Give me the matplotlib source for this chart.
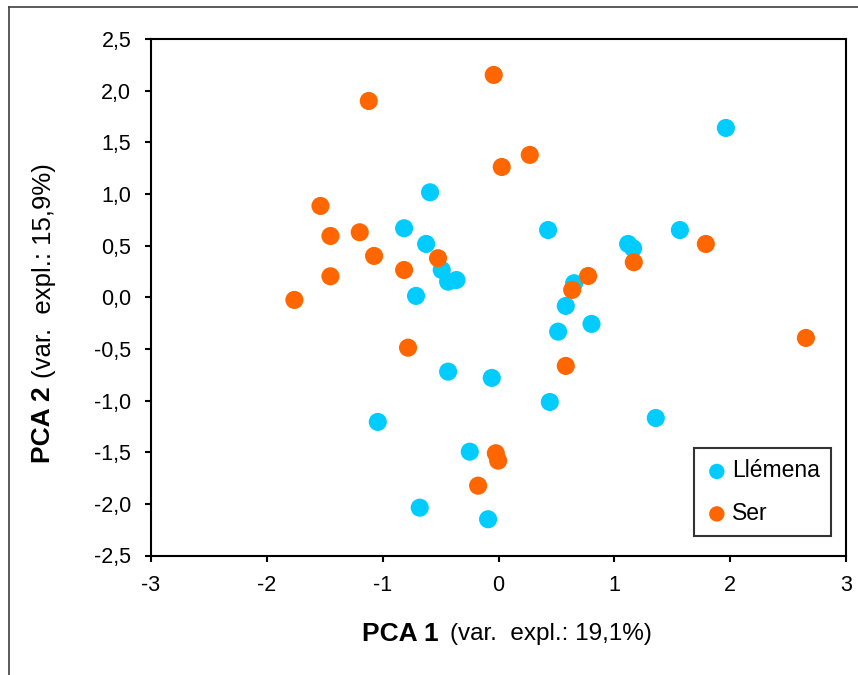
import matplotlib; matplotlib.use("Agg")
import matplotlib.pyplot as plt
from matplotlib.ticker import FuncFormatter, MultipleLocator
from matplotlib.lines import Line2D

plt.rcParams["font.family"] = ["Liberation Sans", "DejaVu Sans"]

BLUE = "#00CCFF"; ORANGE = "#FF6600"

# Llémena scores
ll_x = [1.963, -0.591, -0.815, -0.625, -0.490, -0.435, -0.363, -0.712, 0.428, 1.119, 1.162, 1.566,
        0.653, 0.581, 0.515, 0.803, -0.435, -0.058, 0.443, 1.358, -1.042, -0.248, -0.680, -0.090]
ll_y = [1.639, 1.016, 0.668, 0.516, 0.264, 0.151, 0.167, 0.013, 0.651, 0.516, 0.474, 0.651,
        0.136, -0.084, -0.333, -0.258, -0.720, -0.781, -1.014, -1.169, -1.207, -1.495, -2.037, -2.149]
# Ser scores
ser_x = [-0.041, -1.120, 0.270, 0.028, -1.537, -1.451, -1.198, -1.074, -1.451, -1.762, -0.815,
         -0.522, -0.781, 0.774, 0.636, 1.168, 1.790, 2.654, 0.581, -0.023, -0.003, -0.176]
ser_y = [2.152, 1.900, 1.378, 1.261, 0.884, 0.593, 0.629, 0.400, 0.203, -0.026, 0.264,
         0.378, -0.488, 0.206, 0.071, 0.339, 0.516, -0.394, -0.665, -1.510, -1.582, -1.824]

fig = plt.figure(figsize=(8.58, 6.75), dpi=100)
ax = fig.add_axes([151/858, 1-555.5/675, (846-151)/858, (555.5-39)/675])

ax.scatter(ll_x, ll_y, s=170, color=BLUE, edgecolors="none", label="Llémena", zorder=3)
ax.scatter(ser_x, ser_y, s=170, color=ORANGE, edgecolors="none", label="Ser", zorder=3)

ax.set_xlim(-3, 3); ax.set_ylim(-2.5, 2.5)
ax.xaxis.set_major_locator(MultipleLocator(1)); ax.yaxis.set_major_locator(MultipleLocator(0.5))
ax.xaxis.set_major_formatter(FuncFormatter(lambda v, p: "0" if abs(v) < 1e-9 else f"{v:.0f}"))
ax.yaxis.set_major_formatter(FuncFormatter(lambda v, p: f"{v:.1f}".replace(".", ",")))
ax.tick_params(direction="out", length=4.3, width=1.5, labelsize=15.5, pad=10, color="black")
for s in ax.spines.values(): s.set_linewidth(1.5); s.set_color("black")

leg = ax.legend(loc="lower right", bbox_to_anchor=(0.9785, 0.037), borderaxespad=0, fontsize=16.5,
                frameon=True, fancybox=False, edgecolor="black", handletextpad=0.15,
                labelspacing=0.85, borderpad=0.5, handlelength=1.0, markerscale=0.85)
leg.get_frame().set_linewidth(1.5)

# two-part axis labels (bold name + regular note)
fig.canvas.draw()
r = fig.canvas.get_renderer()
t1 = fig.text(362/858, 1-634/675, "PCA 1", fontsize=19, fontweight="bold", ha="left", va="center")
bb = t1.get_window_extent(r)
fig.text((bb.x1 + 11)/858, 1-634/675, "(var.  expl.: 19,1%)", fontsize=17.5, ha="left", va="center")
t2 = fig.text(43/858, 1-463/675, "PCA 2", fontsize=19, fontweight="bold", rotation=90, ha="center", va="bottom")
bb = t2.get_window_extent(r)
fig.text(44/858, (bb.y1 + 8)/675, "(var.  expl.: 15,9%)", fontsize=18.5, rotation=90, ha="center", va="bottom")

# outer chart frame
fig.add_artist(Line2D([9/858, 9/858], [0, 1-7/675], transform=fig.transFigure, color="#404040", lw=1.2))
fig.add_artist(Line2D([9/858, 1], [1-7/675, 1-7/675], transform=fig.transFigure, color="#404040", lw=1.2))

fig.savefig("out.png", dpi=100)
